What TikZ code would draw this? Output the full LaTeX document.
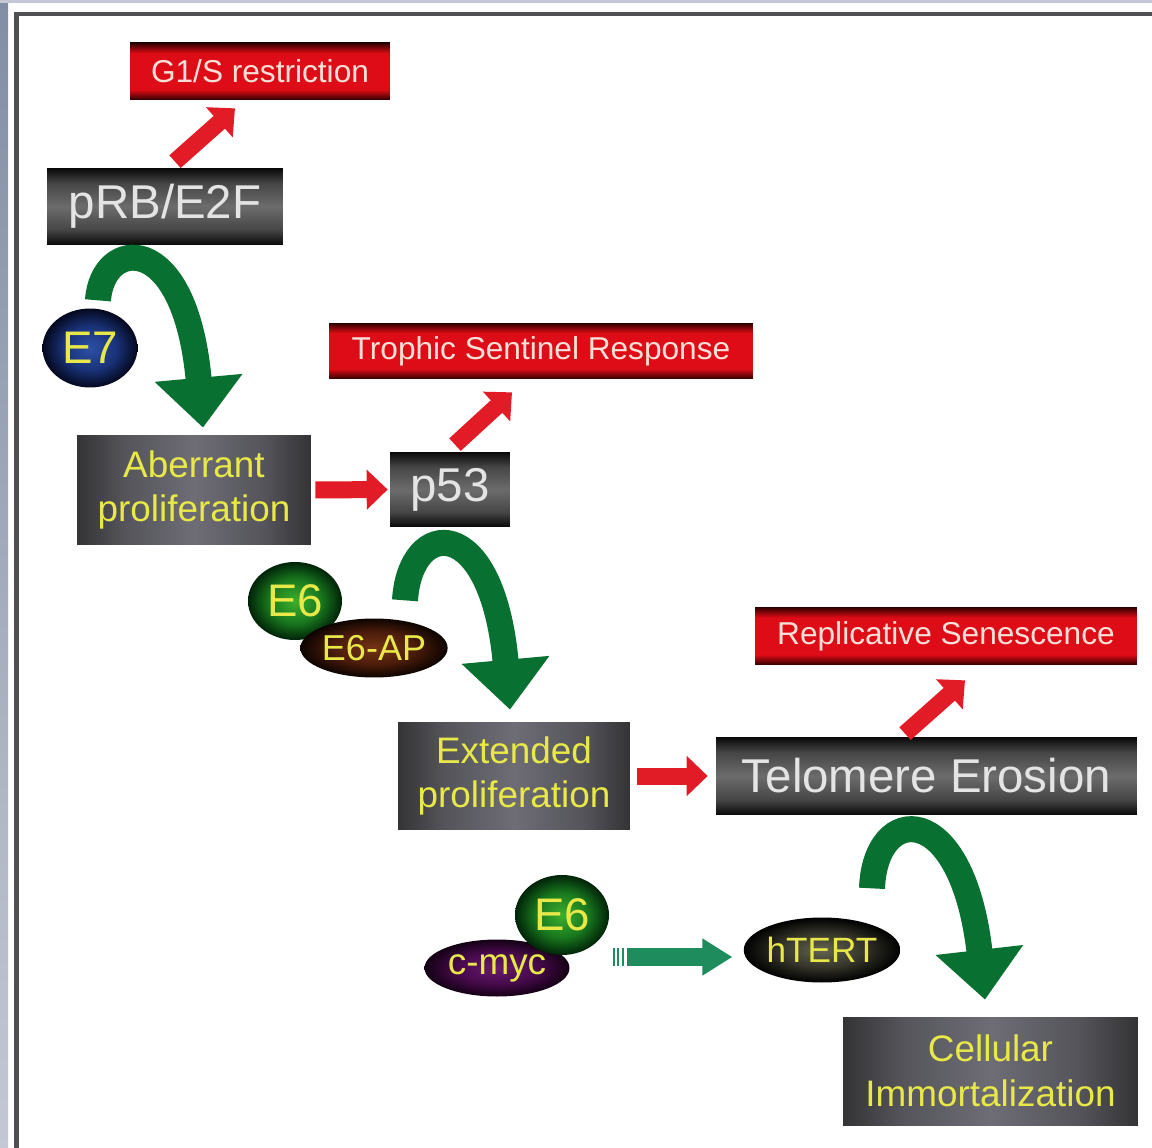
\documentclass[tikz,border=0pt]{standalone}
\usepackage{fontspec}
\setmainfont{Liberation Sans}
\usetikzlibrary{arrows.meta,shapes.geometric,calc}
\definecolor{gArrow}{RGB}{8,112,48}
\definecolor{rArrow}{RGB}{226,28,38}
\definecolor{tArrow}{RGB}{30,140,92}
\definecolor{yText}{RGB}{232,232,72}
\definecolor{wText}{RGB}{228,228,228}
\definecolor{pText}{RGB}{248,224,216}
\definecolor{dkA}{RGB}{8,8,8}
\definecolor{dkB}{RGB}{70,70,70}
\definecolor{dkC}{RGB}{108,108,108}
\definecolor{gyA}{RGB}{52,52,54}
\definecolor{gyB}{RGB}{84,84,90}
\definecolor{gyC}{RGB}{110,109,118}
\definecolor{rdA}{RGB}{45,0,0}
\definecolor{rdB}{RGB}{222,12,22}
\definecolor{frameC}{RGB}{80,80,82}
\definecolor{stripA}{RGB}{130,142,165}
\definecolor{stripB}{RGB}{195,200,212}
% blob colours
\definecolor{bluA}{RGB}{45,80,165}\definecolor{bluB}{RGB}{25,50,120}\definecolor{bluC}{RGB}{4,8,30}
\definecolor{grnA}{RGB}{60,175,45}\definecolor{grnB}{RGB}{25,120,30}\definecolor{grnC}{RGB}{0,35,8}
\definecolor{brnA}{RGB}{115,50,22}\definecolor{brnB}{RGB}{75,28,10}\definecolor{brnC}{RGB}{12,4,0}
\definecolor{purA}{RGB}{105,25,110}\definecolor{purB}{RGB}{70,10,75}\definecolor{purC}{RGB}{20,0,20}
\definecolor{blkA}{RGB}{100,100,80}\definecolor{blkB}{RGB}{50,50,40}\definecolor{blkC}{RGB}{0,0,0}
\pgfdeclareverticalshading{darkbar}{100bp}{color(0bp)=(dkA); color(25bp)=(dkA); color(35bp)=(dkB); color(50bp)=(dkC); color(65bp)=(dkB); color(75bp)=(dkA); color(100bp)=(dkA)}
\pgfdeclarehorizontalshading{graybar}{100bp}{color(0bp)=(gyA); color(25bp)=(gyA); color(35bp)=(gyB); color(50bp)=(gyC); color(65bp)=(gyB); color(75bp)=(gyA); color(100bp)=(gyA)}
\pgfdeclareverticalshading{redbar}{100bp}{color(0bp)=(rdA); color(25bp)=(rdA); color(34bp)=(rdB); color(66bp)=(rdB); color(75bp)=(rdA); color(100bp)=(rdA)}
\pgfdeclareradialshading{blush}{\pgfpoint{0bp}{0bp}}{color(0bp)=(bluA); color(14bp)=(bluB); color(25bp)=(bluC); color(50bp)=(bluC)}
\pgfdeclareradialshading{grnsh}{\pgfpoint{0bp}{0bp}}{color(0bp)=(grnA); color(14bp)=(grnB); color(25bp)=(grnC); color(50bp)=(grnC)}
\pgfdeclareradialshading{brnsh}{\pgfpoint{0bp}{0bp}}{color(0bp)=(brnA); color(14bp)=(brnB); color(25bp)=(brnC); color(50bp)=(brnC)}
\pgfdeclareradialshading{pursh}{\pgfpoint{0bp}{0bp}}{color(0bp)=(purA); color(14bp)=(purB); color(25bp)=(purC); color(50bp)=(purC)}
\pgfdeclareradialshading{blksh}{\pgfpoint{0bp}{0bp}}{color(0bp)=(blkA); color(14bp)=(blkB); color(25bp)=(blkC); color(50bp)=(blkC)}
\begin{document}
\begin{tikzpicture}[x=0.02cm,y=-0.02cm,
  darkbox/.style={rectangle,inner sep=0pt,shade,shading=darkbar,text=wText,font=\fontsize{27}{30}\selectfont},
  graybox/.style={rectangle,inner sep=0pt,shade,shading=graybar,text=yText,align=center,font=\fontsize{21}{25.5}\selectfont},
  redbox/.style={rectangle,inner sep=0pt,shade,shading=redbar,text=pText,font=\fontsize{18}{20}\selectfont},
  blob/.style={ellipse,inner sep=0pt,shade,text=yText},
  greenarc/.style={draw=gArrow,line width=0.52cm,-{Triangle[width=1.7cm,length=1cm]}},
  redarr/.style={draw=rArrow,line width=0.34cm,-{Triangle[width=0.78cm,length=0.42cm]}},
  tealarr/.style={draw=tArrow,line width=0.36cm,dash pattern=on 0.04cm off 0.04cm on 0.04cm off 0.06cm on 0.04cm off 0.06cm on 10cm off 0cm,-{Triangle[width=0.7cm,length=0.6cm]}}
]
\useasboundingbox (0,0) rectangle (1152,1148);
\fill[white] (0,0) rectangle (1152,1148);
% frame
\fill[top color=stripA,bottom color=stripB] (0,0) rectangle (8,1148);
\fill[stripB] (0,0) rectangle (1152,3);
\fill[frameC] (14,12) rectangle (19,1148);
\fill[frameC] (14,12) rectangle (1152,16);

% boxes
\node[redbox,minimum width=5.2cm,minimum height=1.14cm] (g1s) at (260,71.5) {G1/S restriction};
\node[darkbox,minimum width=4.72cm,minimum height=1.54cm] (prb) at (165,206.5) {pRB/E2F};
\node[redbox,minimum width=8.48cm,minimum height=1.12cm] (tsr) at (541,351) {Trophic Sentinel Response};
\node[graybox,minimum width=4.68cm,minimum height=2.2cm] (ab) at (194,490) {Aberrant\\proliferation};
\node[darkbox,minimum width=2.4cm,minimum height=1.5cm] (p53) at (450,489.5) {p53};
\node[redbox,minimum width=7.64cm,minimum height=1.16cm] (rs) at (946,636) {Replicative Senescence};
\node[graybox,minimum width=4.64cm,minimum height=2.16cm] (ext) at (514,776) {Extended\\proliferation};
\node[darkbox,minimum width=8.42cm,minimum height=1.56cm] (tel) at (926.5,776) {Telomere Erosion};
\node[graybox,minimum width=5.9cm,minimum height=2.16cm] (ci) at (990.5,1071) {Cellular\\Immortalization};

% green curved arrows
\draw[greenarc] ($(prb.south)+(-67,55)$) .. controls (102,238) and (185,228) .. ($(ab.north)+(9,-7)$);
\draw[greenarc] ($(p53.south)+(-45,73)$) .. controls (410,518) and (492,512) .. ($(ext.north)+(-4,-12)$);
\draw[greenarc] ($(tel.south)+(-54.5,73)$) .. controls (875,803) and (962,798) .. ($(ci.north)+(-5.5,-17)$);

% blobs
\node[blob,shading=blush,minimum width=1.9cm,minimum height=1.58cm,font=\fontsize{26}{28}\selectfont] (e7) at (90,348) {E7};
\node[blob,shading=grnsh,minimum width=1.88cm,minimum height=1.56cm,font=\fontsize{26}{28}\selectfont] (e6a) at (295,601) {E6};
\node[blob,shading=brnsh,minimum width=2.9cm,minimum height=1.18cm,font=\fontsize{20.5}{22}\selectfont] (e6ap) at (374,648) {E6-AP};
\node[blob,shading=pursh,minimum width=2.9cm,minimum height=1.14cm,font=\fontsize{21}{23}\selectfont] (myc) at (497,968) {c-myc};
\node[blob,shading=grnsh,minimum width=1.88cm,minimum height=1.6cm,font=\fontsize{26}{28}\selectfont] (e6b) at (562,915) {E6};
\node[blob,shading=blksh,minimum width=2.98cm,minimum height=1.3cm,font=\fontsize{20}{22}\selectfont] (tert) at (822,950) {hTERT};

% red arrows
\draw[redarr] ($(prb.north)+(10,-6)$) -- ($(g1s.south)+(-25,8)$);
\draw[redarr] ($(p53.north)+(5,-7)$) -- ($(tsr.south)+(-29,13)$);
\draw[redarr] ($(tel.north)+(-21.5,-3)$) -- ($(rs.south)+(19,15)$);
\draw[redarr] ($(ab.east)+(4,0)$) -- ($(p53.west)+(-2,0)$);
\draw[redarr] ($(ext.east)+(7,0)$) -- ($(tel.west)+(-8,0)$);

% teal arrow
\draw[tealarr] ($(myc.east)+(43,-11)$) -- ($(tert.west)+(-11,7)$);
\end{tikzpicture}
\end{document}
